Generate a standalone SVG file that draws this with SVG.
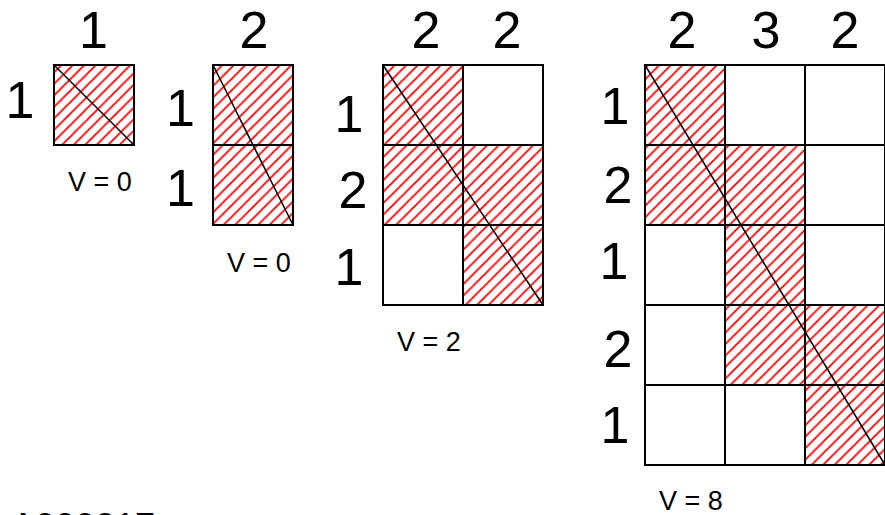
<svg xmlns="http://www.w3.org/2000/svg" width="885" height="515" viewBox="0 0 885 515">
<style>
.lbl{font-family:"Liberation Sans",Arial,sans-serif;font-size:52px;fill:#000;text-anchor:middle}
.v{font-family:"Liberation Sans",Arial,sans-serif;font-size:27px;fill:#000}
.h{fill:url(#hatch);stroke:none}
.c{fill:none;stroke:#000;stroke-width:2}
.d{stroke:#000;stroke-width:1.5;fill:none}
</style>
<defs>
<pattern id="hatch" patternUnits="userSpaceOnUse" width="11.5" height="11.5">
<path d="M-1,1 L1,-1 M0,11.5 L11.5,0 M10.5,12.5 L12.5,10.5" stroke="#ff0000" stroke-width="1.8"/>
</pattern>
</defs>
<rect width="885" height="515" fill="#fff"/>

<g id="grid1">
<rect class="h" x="54" y="65" width="80" height="80"/>
<rect class="c" x="54" y="65" width="80" height="80"/>
<line class="d" x1="54" y1="65" x2="134" y2="145"/>
<text class="lbl" x="93.5" y="48">1</text>
<text class="lbl" x="20" y="118">1</text>
<text class="v" x="68" y="191">V = 0</text>
</g>

<g id="grid2">
<rect class="h" x="213" y="65" width="80" height="160"/>
<rect class="c" x="213" y="65" width="80" height="80"/>
<rect class="c" x="213" y="145" width="80" height="80"/>
<line class="d" x1="213" y1="65" x2="293" y2="225"/>
<text class="lbl" x="254" y="48">2</text>
<text class="lbl" x="180.5" y="126">1</text>
<text class="lbl" x="180.5" y="206">1</text>
<text class="v" x="227" y="272">V = 0</text>
</g>

<g id="grid3">
<rect class="h" x="383" y="65" width="80" height="160"/>
<rect class="h" x="463" y="145" width="80" height="160"/>
<rect class="c" x="383" y="65" width="80" height="80"/>
<rect class="c" x="463" y="65" width="80" height="80"/>
<rect class="c" x="383" y="145" width="80" height="80"/>
<rect class="c" x="463" y="145" width="80" height="80"/>
<rect class="c" x="383" y="225" width="80" height="80"/>
<rect class="c" x="463" y="225" width="80" height="80"/>
<line class="d" x1="383" y1="65" x2="543" y2="305"/>
<text class="lbl" x="426" y="48">2</text>
<text class="lbl" x="507" y="48">2</text>
<text class="lbl" x="349" y="132">1</text>
<text class="lbl" x="353" y="208">2</text>
<text class="lbl" x="349" y="285">1</text>
<text class="v" x="397" y="351">V = 2</text>
</g>

<g id="grid4">
<rect class="h" x="645" y="65" width="80" height="160"/>
<rect class="h" x="725" y="145" width="80" height="240"/>
<rect class="h" x="805" y="305" width="80" height="160"/>
<rect class="c" x="645" y="65" width="80" height="80"/>
<rect class="c" x="725" y="65" width="80" height="80"/>
<rect class="c" x="805" y="65" width="80" height="80"/>
<rect class="c" x="645" y="145" width="80" height="80"/>
<rect class="c" x="725" y="145" width="80" height="80"/>
<rect class="c" x="805" y="145" width="80" height="80"/>
<rect class="c" x="645" y="225" width="80" height="80"/>
<rect class="c" x="725" y="225" width="80" height="80"/>
<rect class="c" x="805" y="225" width="80" height="80"/>
<rect class="c" x="645" y="305" width="80" height="80"/>
<rect class="c" x="725" y="305" width="80" height="80"/>
<rect class="c" x="805" y="305" width="80" height="80"/>
<rect class="c" x="645" y="385" width="80" height="80"/>
<rect class="c" x="725" y="385" width="80" height="80"/>
<rect class="c" x="805" y="385" width="80" height="80"/>
<line class="d" x1="645" y1="65" x2="885" y2="465"/>
<text class="lbl" x="682" y="48">2</text>
<text class="lbl" x="766" y="48">3</text>
<text class="lbl" x="845" y="48">2</text>
<text class="lbl" x="615" y="124">1</text>
<text class="lbl" x="618" y="203">2</text>
<text class="lbl" x="614" y="279">1</text>
<text class="lbl" x="618" y="367">2</text>
<text class="lbl" x="615" y="443">1</text>
<text class="v" x="659" y="510">V = 8</text>
</g>

<g id="caption">
<text x="11" y="539" font-family="'Liberation Sans',Arial,sans-serif" font-size="36" fill="#000">A000217</text>
</g>
<g id="connectors"/>
</svg>
